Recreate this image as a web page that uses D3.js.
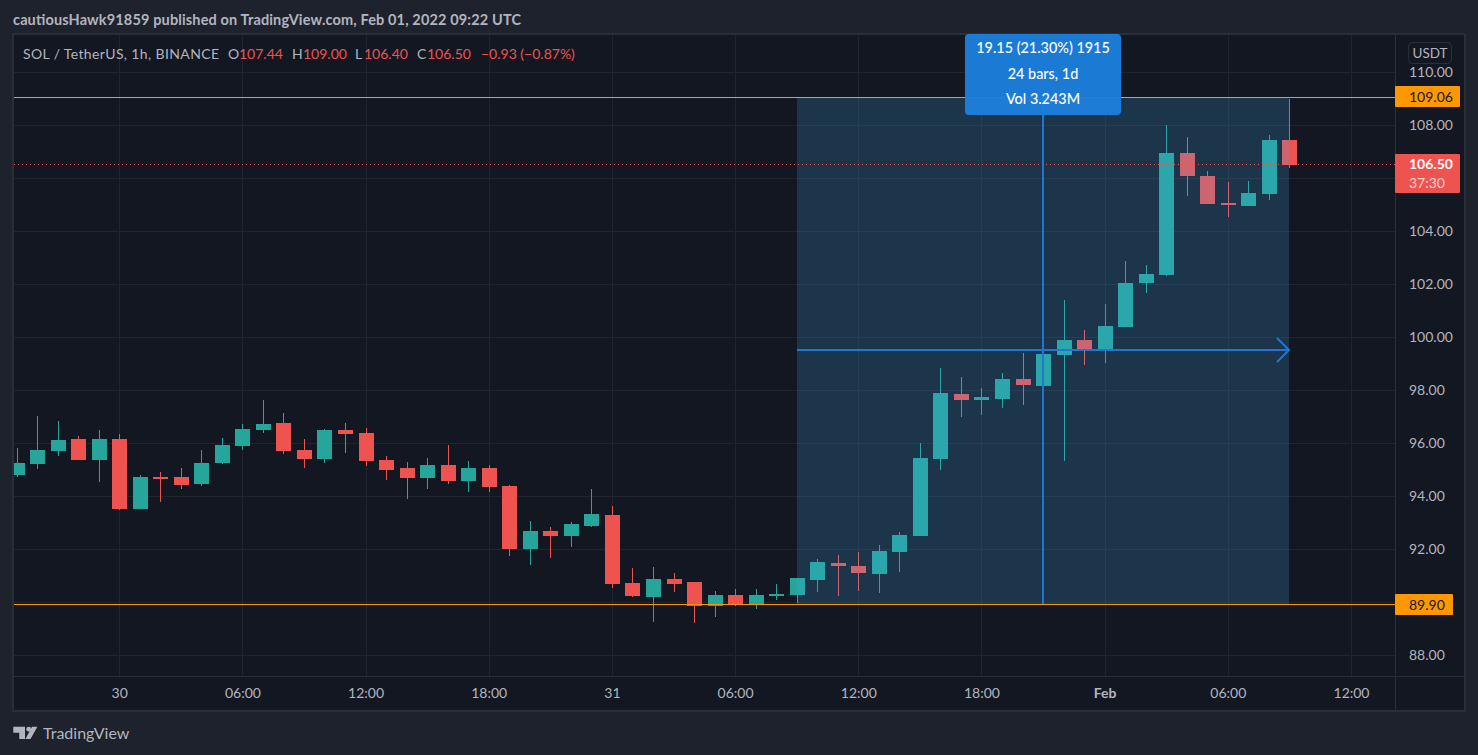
<!DOCTYPE html>
<html>
<head>
<meta charset="utf-8">
<script src="https://cdn.jsdelivr.net/npm/d3@7"></script>
<style>
  html, body { margin: 0; padding: 0; background: #1e222d; overflow: hidden; }
  svg { display: block; }
  text { font-family: Lato, "Noto Sans", sans-serif; }
  .grid line { stroke: #20242f; shape-rendering: crispEdges; }
  .grid path, .axis path, .axis line { display: none; }
  .axis text { fill: #b2b5be; font-size: 14px; }
  .edge { shape-rendering: crispEdges; }
</style>
</head>
<body>
<div id="chart"></div>
<script>
const width = 1478;
const height = 755;

// hourly candles, first one is Jan 29 19:00 UTC
const firstCandle = Date.UTC(2022, 0, 29, 19);
const opens = [94.81, 95.22, 95.71, 96.16, 95.37, 96.16, 93.52, 94.73, 94.73, 94.47, 95.26, 95.90, 96.50, 96.77, 95.75, 95.41, 96.50, 96.39, 95.37,
  95.07, 94.69, 95.18, 94.58, 95.07, 94.39, 92.01, 92.69, 92.50, 92.88, 93.30, 90.73, 90.20, 90.88, 90.77, 89.86, 90.28, 89.95, 90.24,
  90.28, 90.84, 91.48, 91.37, 91.07, 91.90, 92.50, 95.41, 97.86, 97.64, 97.67, 98.43, 98.16, 99.33, 99.90, 99.52, 100.39, 102.05, 102.35,
  106.96, 106.09, 105.07, 104.96, 105.41, 107.44];
const highs = [95.82, 97.03, 96.84, 96.28, 96.50, 96.35, 94.81, 94.92, 95.07, 95.75, 96.20, 96.73, 97.64, 97.14, 96.16, 96.54, 96.77, 96.58, 95.52,
  95.30, 95.45, 95.94, 95.33, 95.18, 94.43, 93.07, 92.84, 93.03, 94.28, 93.64, 91.30, 91.33, 91.11, 90.77, 90.43, 90.50, 90.50, 90.69,
  90.92, 91.64, 91.79, 91.90, 92.16, 92.65, 96.01, 98.84, 98.50, 98.09, 98.65, 99.41, 99.40, 101.41, 100.28, 101.26, 102.88, 102.73, 108.01,
  107.56, 106.28, 105.86, 105.90, 107.64, 109.00];
const lows = [94.73, 95.03, 95.52, 95.37, 94.54, 93.48, 93.52, 93.79, 94.28, 94.39, 95.22, 95.75, 96.39, 95.60, 95.07, 95.26, 95.64, 95.14, 94.62,
  93.90, 94.28, 94.47, 94.16, 94.16, 91.75, 91.41, 91.67, 92.09, 92.84, 90.54, 90.20, 89.26, 90.39, 89.22, 89.45, 89.86, 89.75, 90.09,
  89.97, 90.39, 90.24, 90.43, 90.35, 91.14, 92.50, 94.99, 96.99, 97.07, 97.33, 97.45, 98.16, 95.33, 98.96, 99.03, 100.39, 101.67, 102.31,
  105.33, 105.03, 104.54, 104.96, 105.18, 106.40];
const closes = [95.26, 95.75, 96.13, 95.37, 96.16, 93.52, 94.73, 94.69, 94.43, 95.26, 95.94, 96.54, 96.73, 95.71, 95.41, 96.50, 96.35, 95.33, 94.99,
  94.69, 95.18, 94.58, 95.07, 94.35, 92.01, 92.69, 92.50, 92.96, 93.33, 90.69, 90.24, 90.88, 90.69, 89.86, 90.28, 89.90, 90.28, 90.31,
  90.92, 91.52, 91.37, 91.11, 91.94, 92.54, 95.45, 97.90, 97.64, 97.75, 98.43, 98.20, 99.37, 99.90, 99.52, 100.43, 102.05, 102.39, 106.96,
  106.09, 105.03, 104.99, 105.45, 107.45, 106.50];

const priceTicks = [110, 108, 106, 104, 102, 100, 98, 96, 94, 92, 90, 88];
const hiddenPriceTicks = [106, 90]; // sit behind the price tags
const timeTicks = [
  Date.UTC(2022, 0, 30, 0), Date.UTC(2022, 0, 30, 6), Date.UTC(2022, 0, 30, 12), Date.UTC(2022, 0, 30, 18),
  Date.UTC(2022, 0, 31, 0), Date.UTC(2022, 0, 31, 6), Date.UTC(2022, 0, 31, 12), Date.UTC(2022, 0, 31, 18),
  Date.UTC(2022, 1, 1, 0), Date.UTC(2022, 1, 1, 6), Date.UTC(2022, 1, 1, 12),
];
const timeLabels = ["30", "06:00", "12:00", "18:00", "31", "06:00", "12:00", "18:00", "Feb", "06:00", "12:00"];

const legendParts = [
  { text: "SOL / TetherUS, 1h, BINANCE", x: 23, up: false, fit: 196 },
  { text: "O", x: 228, up: false }, { text: "107.44", x: 239, up: true },
  { text: "H", x: 292, up: false }, { text: "109.00", x: 303, up: true },
  { text: "L", x: 355, up: false }, { text: "106.40", x: 364, up: true },
  { text: "C", x: 417, up: false }, { text: "106.50", x: 427, up: true },
  { text: "\u22120.93 (\u22120.87%)", x: 481, up: true },
];

const measureFrom = 89.90;
const measureTo = 109.06;
const lastPrice = 106.50;
const measureStart = Date.UTC(2022, 0, 31, 9);
const measureEnd = Date.UTC(2022, 1, 1, 9);
const measureLines = ["19.15 (21.30%) 1915", "24 bars, 1d", "Vol 3.243M"];

const plot = { left: 14, right: 1395, top: 35, bottom: 676 };
const GREEN = "#26a69a";
const RED = "#ef5350";
const ORANGE = "#ff9800";
const BLUE = "#1e76d6";
const BODY_WIDTH = 15;

const svg = d3.select("#chart").append("svg")
  .attr("width", width)
  .attr("height", height);

const x = d3.scaleUtc()
  .domain([timeTicks[0], timeTicks[timeTicks.length - 1]])
  .range([119.69, 1351.49]);

const y = d3.scaleLinear()
  .domain([110, 88])
  .range([72.3, 655.3]);

// frame
svg.append("rect").attr("class", "edge")
  .attr("x", 13).attr("y", 34)
  .attr("width", 1452).attr("height", 677)
  .attr("fill", "#131722")
  .attr("stroke", "#2a2e39").attr("stroke-width", 2);

svg.append("text")
  .attr("x", 13).attr("y", 25)
  .attr("fill", "#b2b5be")
  .attr("textLength", 508)
  .style("font-size", "14.5px")
  .style("font-weight", 700)
  .text("cautiousHawk91859 published on TradingView.com, Feb 01, 2022 09:22 UTC");

svg.append("clipPath").attr("id", "plot-clip").append("rect")
  .attr("x", plot.left).attr("y", plot.top)
  .attr("width", plot.right - plot.left).attr("height", plot.bottom - plot.top);

// grid
svg.append("g").attr("class", "grid")
  .attr("transform", `translate(-0.5,${plot.bottom})`)
  .call(d3.axisBottom(x).tickValues(timeTicks).tickSize(plot.top - plot.bottom).tickFormat(""));

svg.append("g").attr("class", "grid")
  .attr("transform", `translate(${plot.left},0)`)
  .call(d3.axisRight(y).tickValues(priceTicks).tickSize(plot.right - plot.left).tickFormat(""));

// candles
const candles = opens.map((open, i) => ({
  time: firstCandle + i * 3600000,
  open,
  high: highs[i],
  low: lows[i],
  close: closes[i],
}));

const candleGroups = svg.append("g")
  .attr("class", "edge")
  .attr("clip-path", "url(#plot-clip)")
  .selectAll("g")
  .data(candles)
  .join("g")
  .attr("fill", d => d.close >= d.open ? GREEN : RED);

candleGroups.append("rect")
  .attr("x", d => Math.floor(x(d.time)))
  .attr("y", d => Math.round(y(d.high)))
  .attr("width", 1)
  .attr("height", d => Math.max(1, Math.round(y(d.low)) - Math.round(y(d.high))));

candleGroups.append("rect")
  .attr("x", d => Math.floor(x(d.time)) - 7)
  .attr("y", d => Math.round(y(Math.max(d.open, d.close))))
  .attr("width", BODY_WIDTH)
  .attr("height", d => Math.max(2, Math.round(y(Math.min(d.open, d.close))) - Math.round(y(Math.max(d.open, d.close)))));

// price measure
const mx0 = Math.floor(x(measureStart));
const mx1 = Math.floor(x(measureEnd));
const my0 = Math.floor(y(measureTo));
const my1 = Math.floor(y(measureFrom));
const mxMid = Math.floor(x((measureStart + measureEnd) / 2));
const myMid = Math.floor(y((measureFrom + measureTo) / 2)) - 1;

svg.append("rect")
  .attr("x", mx0).attr("y", my0)
  .attr("width", mx1 - mx0).attr("height", my1 - my0)
  .attr("fill", "rgba(64,173,240,0.2)");

svg.append("line")
  .attr("x1", plot.left).attr("x2", plot.right)
  .attr("y1", Math.floor(y(lastPrice)) - 0.5).attr("y2", Math.floor(y(lastPrice)) - 0.5)
  .attr("stroke", RED).attr("stroke-dasharray", "1 3");

[measureTo, measureFrom].forEach(price => {
  svg.append("line").attr("class", "edge")
    .attr("x1", plot.left).attr("x2", plot.right)
    .attr("y1", Math.floor(y(price)) + 0.5).attr("y2", Math.floor(y(price)) + 0.5)
    .attr("stroke", ORANGE);
});

svg.append("line")
  .attr("x1", mx0).attr("x2", mx1)
  .attr("y1", myMid).attr("y2", myMid)
  .attr("stroke", BLUE).attr("stroke-width", 2);

svg.append("line")
  .attr("x1", mxMid).attr("x2", mxMid)
  .attr("y1", my0).attr("y2", my1)
  .attr("stroke", BLUE).attr("stroke-width", 2);

svg.append("path")
  .attr("d", `M${mx1 - 12},${myMid - 12}L${mx1},${myMid}L${mx1 - 12},${myMid + 12}`)
  .attr("fill", "none").attr("stroke", BLUE).attr("stroke-width", 2);

svg.append("path")
  .attr("d", `M${mxMid - 12},${my0 + 12}L${mxMid},${my0}L${mxMid + 12},${my0 + 12}`)
  .attr("fill", "none").attr("stroke", BLUE).attr("stroke-width", 2);

const box = svg.append("g");
box.append("rect")
  .attr("x", 965).attr("y", 34)
  .attr("width", 156).attr("height", 81)
  .attr("rx", 4)
  .attr("fill", "#1c7fdc").attr("fill-opacity", 0.96);
box.selectAll("text")
  .data(measureLines)
  .join("text")
  .attr("x", 1043)
  .attr("y", (d, i) => 53 + i * 25.7)
  .attr("text-anchor", "middle")
  .attr("fill", "#ffffff")
  .style("font-size", "14.4px")
  .style("font-weight", 500)
  .text(d => d);

// axes
svg.append("line").attr("class", "edge")
  .attr("x1", 13).attr("x2", 1465).attr("y1", 676.5).attr("y2", 676.5)
  .attr("stroke", "#2a2e39");
svg.append("line").attr("class", "edge")
  .attr("x1", 1395.5).attr("x2", 1395.5).attr("y1", 34).attr("y2", 711)
  .attr("stroke", "#2a2e39");

const xAxis = svg.append("g").attr("class", "axis")
  .attr("transform", "translate(-0.5,676)")
  .call(d3.axisBottom(x).tickValues(timeTicks).tickSize(0).tickPadding(12)
    .tickFormat((d, i) => timeLabels[i]));
xAxis.selectAll("text")
  .style("font-weight", (d, i) => timeLabels[i] === "Feb" ? 700 : 400)
  .attr("dy", "0.71em");

const yAxis = svg.append("g").attr("class", "axis")
  .attr("transform", "translate(1396,-0.5)")
  .call(d3.axisRight(y).tickValues(priceTicks).tickSize(0).tickPadding(13)
    .tickFormat(d => hiddenPriceTicks.includes(d) ? "" : d3.format(".2f")(d)));

// price tags
function priceTag(price, right, fill) {
  const cy = y(price);
  svg.append("rect")
    .attr("x", 1395).attr("y", Math.round(cy) - 11)
    .attr("width", right - 1395).attr("height", 21)
    .attr("rx", 1)
    .attr("fill", fill);
  svg.append("text")
    .attr("x", 1409).attr("y", cy).attr("dy", "0.35em")
    .attr("fill", "#131722")
    .style("font-size", "14px")
    .text(d3.format(".2f")(price));
}
priceTag(measureTo, 1460, ORANGE);
priceTag(measureFrom, 1453, ORANGE);

svg.append("rect")
  .attr("x", 1395).attr("y", 154)
  .attr("width", 65).attr("height", 39)
  .attr("rx", 1)
  .attr("fill", RED);
svg.append("text")
  .attr("x", 1409).attr("y", y(lastPrice) - 1).attr("dy", "0.35em")
  .attr("fill", "#ffffff")
  .style("font-size", "14px").style("font-weight", 700)
  .text(d3.format(".2f")(lastPrice));
svg.append("text")
  .attr("x", 1409).attr("y", 188)
  .attr("fill", "#ffffff").attr("fill-opacity", 0.75)
  .style("font-size", "14px")
  .text("37:30");

// currency button
svg.append("rect")
  .attr("x", 1408.5).attr("y", 42.5)
  .attr("width", 43).attr("height", 21)
  .attr("rx", 4)
  .attr("fill", "#131722").attr("stroke", "#2a2e39");
svg.append("text")
  .attr("x", 1430).attr("y", 53).attr("dy", "0.35em")
  .attr("text-anchor", "middle")
  .attr("fill", "#b2b5be")
  .style("font-size", "13.5px")
  .text("USDT");

// legend line
svg.append("g").selectAll("text")
  .data(legendParts)
  .join("text")
  .attr("x", d => d.x)
  .attr("y", 59)
  .attr("fill", d => d.up ? RED : "#b2b5be")
  .attr("textLength", d => d.fit || null)
  .style("font-size", "14px")
  .text(d => d.text);

// logo
const logo = svg.append("g").attr("fill", "#b2b5be");
logo.append("path").attr("d", "M13.3,726.7H25V739H19.3V732.7H13.3Z");
logo.append("circle").attr("cx", 28.7).attr("cy", 729.2).attr("r", 2.4);
logo.append("path").attr("d", "M32,726.7H37.4L30.5,739H25.4Z");
svg.append("text")
  .attr("x", 43).attr("y", 739)
  .attr("fill", "#b2b5be")
  .style("font-size", "16px")
  .text("TradingView");
</script>
</body>
</html>
